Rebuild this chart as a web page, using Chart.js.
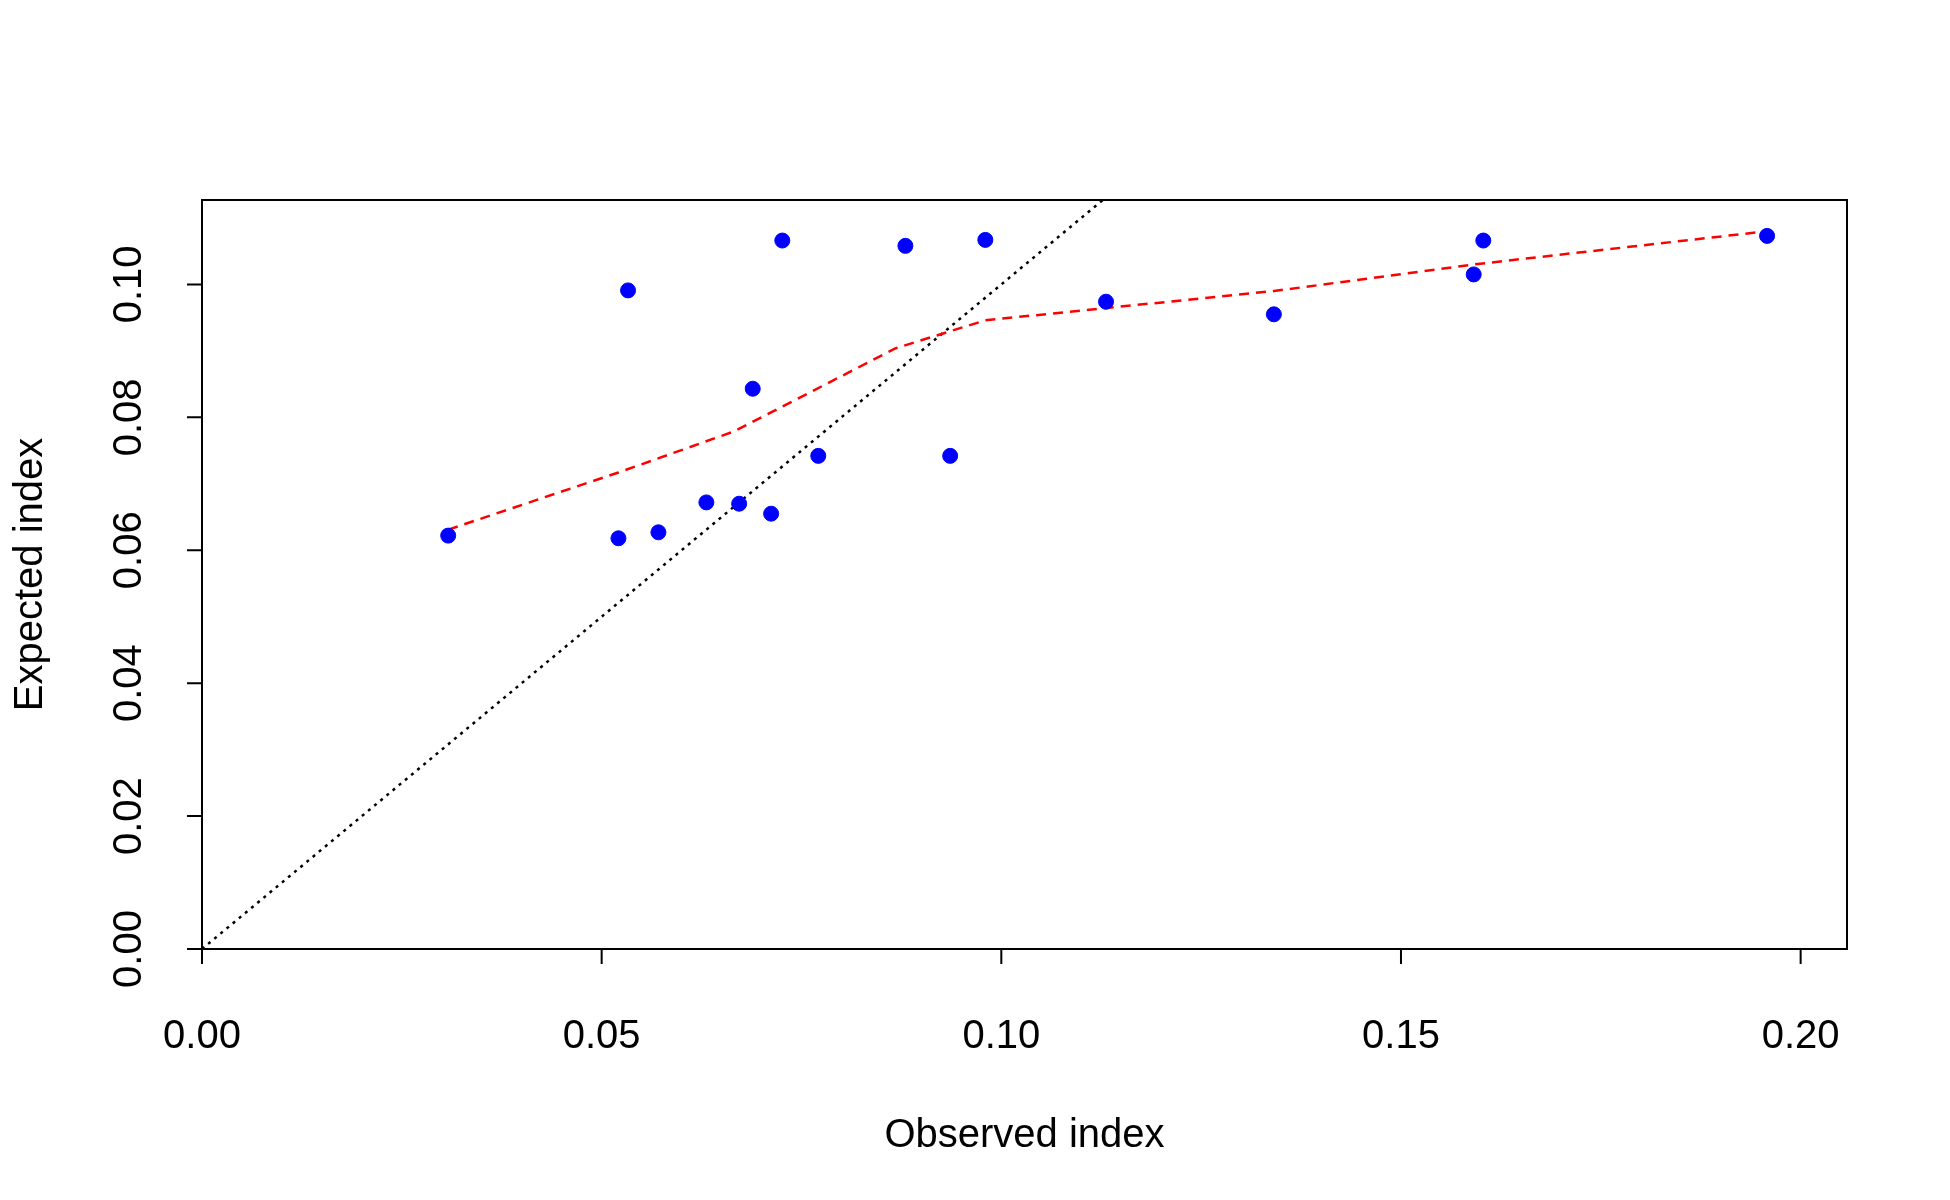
<!DOCTYPE html>
<html><head><meta charset="utf-8">
<script src="https://cdn.jsdelivr.net/npm/chart.js@4"></script>
<style>html,body{margin:0;padding:0;background:#fff}#w{width:1950px;height:1200px}</style>
</head><body><div id="w"><canvas id="c"></canvas></div>
<script>
const obsX = [0.0308,0.0521,0.0533,0.0571,0.0631,0.0672,0.0689,0.0712,0.0726,0.0771,0.0880,0.0936,0.0980,0.1131,0.1341,0.1591,0.1603,0.1958];
const expY = [0.0622,0.0618,0.0991,0.0627,0.0672,0.0670,0.0843,0.0655,0.1066,0.0742,0.1058,0.0742,0.1067,0.0974,0.0955,0.1015,0.1066,0.1073];
const smoothX = [0.0308,0.0521,0.0666,0.0868,0.0980,0.1341,0.1591,0.1958];
const smoothY = [0.0631,0.0717,0.0779,0.0904,0.0946,0.0990,0.1030,0.1080];
const diagX = [0, 0.2];
const xTicks = [0,0.05,0.10,0.15,0.20];
const yTicks = [0,0.02,0.04,0.06,0.08,0.10];
const FONT = '40px "Liberation Sans", Arial, sans-serif';

const axesPlugin = {
  id:'rAxes',
  afterDraw(chart){
    const ctx=chart.ctx, a=chart.chartArea, xs=chart.scales.x, ys=chart.scales.y;
    ctx.save();
    ctx.strokeStyle='#000'; ctx.lineWidth=2; ctx.setLineDash([]);
    ctx.strokeRect(a.left,a.top,a.right-a.left,a.bottom-a.top);
    ctx.fillStyle='#000'; ctx.font=FONT;
    const tl=15;
    const x0=xs.getPixelForValue(xTicks[0]), x1=xs.getPixelForValue(xTicks[xTicks.length-1]);
    ctx.beginPath(); ctx.moveTo(x0,a.bottom); ctx.lineTo(x1,a.bottom);
    xTicks.forEach(v=>{const p=xs.getPixelForValue(v); ctx.moveTo(p,a.bottom); ctx.lineTo(p,a.bottom+tl);});
    ctx.stroke();
    ctx.textAlign='center'; ctx.textBaseline='middle';
    xTicks.forEach(v=>ctx.fillText(v.toFixed(2), xs.getPixelForValue(v), 1037));
    ctx.fillText('Observed index',(a.left+a.right)/2,1136);
    const y0=ys.getPixelForValue(yTicks[0]), y1=ys.getPixelForValue(yTicks[yTicks.length-1]);
    ctx.beginPath(); ctx.moveTo(a.left,y0); ctx.lineTo(a.left,y1);
    yTicks.forEach(v=>{const p=ys.getPixelForValue(v); ctx.moveTo(a.left,p); ctx.lineTo(a.left-tl,p);});
    ctx.stroke();
    yTicks.forEach(v=>{const p=ys.getPixelForValue(v); ctx.save(); ctx.translate(130,p); ctx.rotate(-Math.PI/2); ctx.fillText(v.toFixed(2),0,0); ctx.restore();});
    ctx.save(); ctx.translate(31,(a.top+a.bottom)/2); ctx.rotate(-Math.PI/2); ctx.fillText('Expected index',0,0); ctx.restore();
    ctx.restore();
  }
};

new Chart(document.getElementById('c'),{
  type:'scatter',
  data:{datasets:[
    {data:obsX.map((x,i)=>({x,y:expY[i]})), backgroundColor:'#0000ff', borderColor:'#0000ff', pointRadius:7.5, pointHoverRadius:7.5, order:1},
    {type:'line', data:smoothX.map((x,i)=>({x,y:smoothY[i]})), borderColor:'#ff0000', borderWidth:2.5, borderDash:[10,7], pointRadius:0, fill:false, tension:0, order:2},
    {type:'line', data:diagX.map(x=>({x,y:x})), borderColor:'#000', borderWidth:2.5, borderDash:[3,5], pointRadius:0, fill:false, tension:0, order:3}
  ]},
  options:{
    responsive:true, maintainAspectRatio:false, animation:false,
    layout:{padding:{left:202,right:103,top:200,bottom:251}},
    plugins:{legend:{display:false},tooltip:{enabled:false}},
    scales:{
      x:{type:'linear',min:0,max:0.2058,display:false},
      y:{type:'linear',min:0,max:0.1127,display:false}
    }
  },
  plugins:[axesPlugin]
});
</script></body></html>
